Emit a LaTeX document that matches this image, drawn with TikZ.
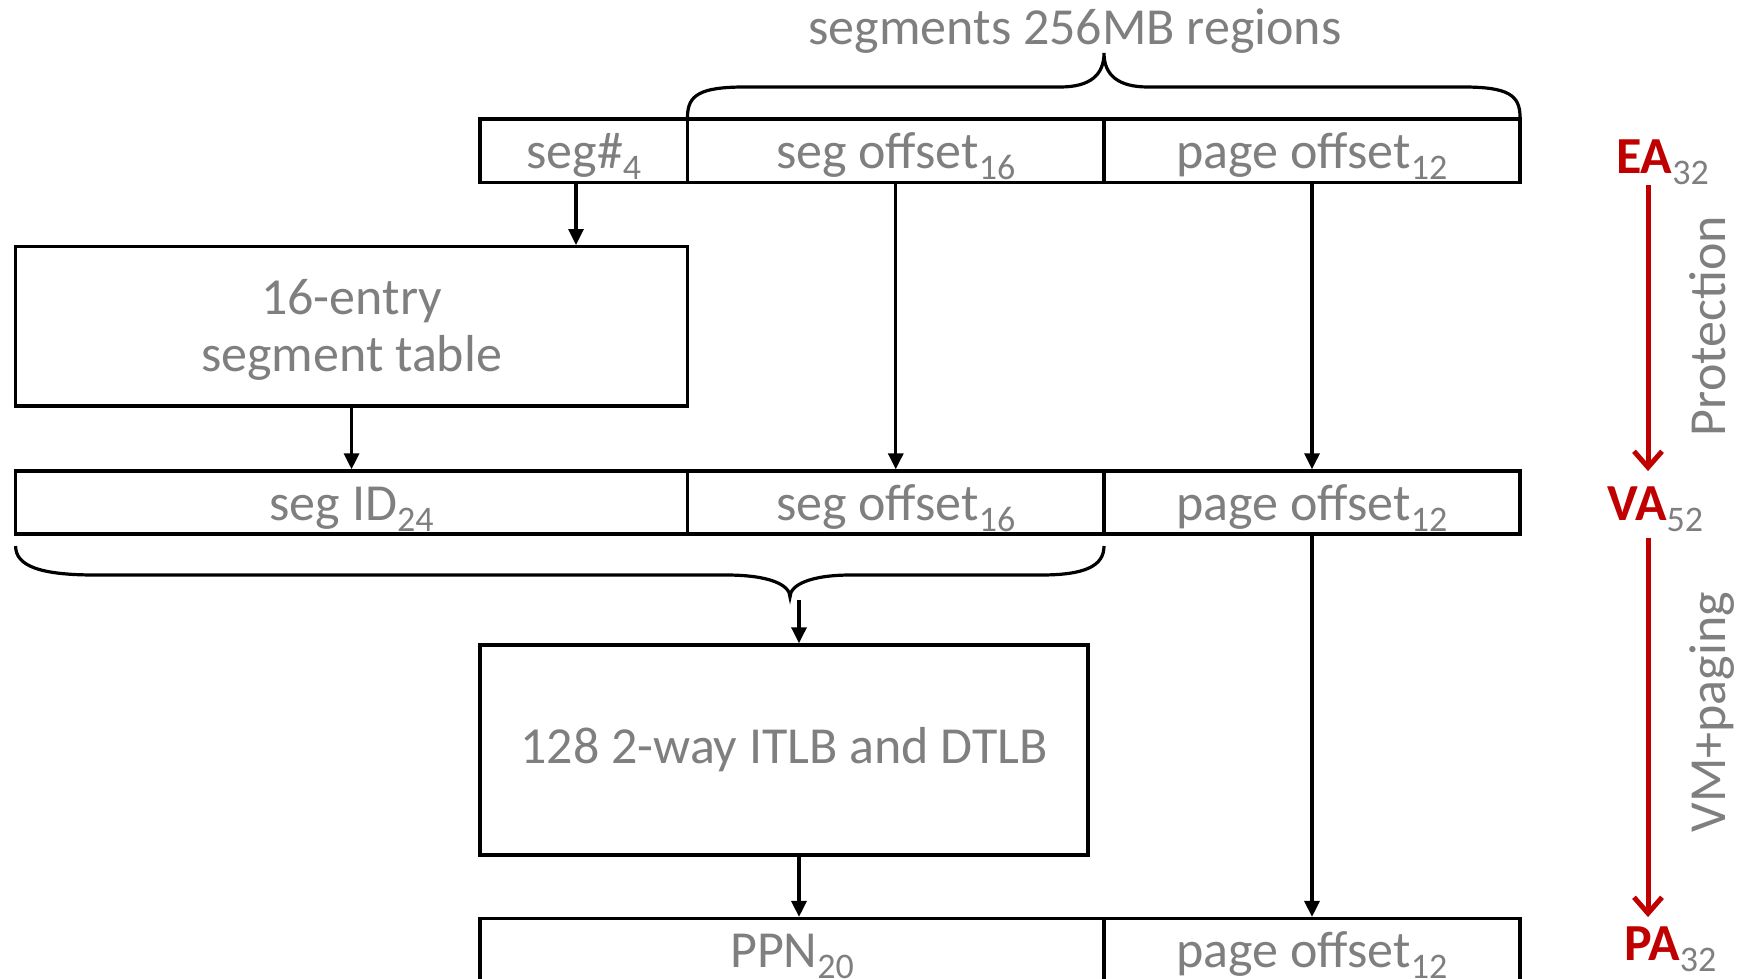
\documentclass[tikz,border=0pt]{standalone}
\usepackage{fontspec}
\setmainfont{Carlito}
\usetikzlibrary{arrows.meta}
\definecolor{txtgray}{HTML}{7F7F7F}
\definecolor{dred}{HTML}{C00000}
\newcommand\subs[1]{\raisebox{-11pt}{\fontsize{36}{36}\selectfont #1}}
\begin{document}
\begin{tikzpicture}[x=1pt,y=-1pt,
  every node/.style={font=\fontsize{52}{57}\selectfont, text=txtgray, inner sep=0pt},
  field/.style={draw=black, line width=3.4pt, minimum height=63pt, text height=49pt, text depth=14pt},
  bigbox/.style={draw=black, line width=3.4pt, align=center},
  arr/.style={draw=black, line width=3.3pt, -{Triangle[length=16pt,width=15pt]}},
  redarr/.style={draw=dred, line width=5pt, -{Straight Barb[length=16pt,width=28pt,line width=5pt]}},
  bracepath/.style={draw=black, line width=3.2pt},
  redlab/.style={anchor=base west, text=dred, font=\fontsize{52}{57}\selectfont\bfseries},
  sidelab/.style={rotate=90, anchor=base}]
\useasboundingbox (0,0) rectangle (1750,979);
\clip (0,0) rectangle (1750,979);

% title and top brace
\node[anchor=base] (title) at (1075,45) {segments 256MB regions};
\draw[bracepath] (687.5,117) .. controls (687.5,95) and (700,87) .. (745,87) -- (1060,87)
  .. controls (1090,87) and (1104,75) .. (1104,53)
  .. controls (1104,75) and (1118,87) .. (1148,87) -- (1463,87)
  .. controls (1508,87) and (1520,95) .. (1520,117);

% EA row
\node[field, minimum width=207.5pt] (segn) at (583.75,150.7) {seg\#\subs{4}};
\node[field, minimum width=416.5pt] (soff1) at (895.75,150.7) {seg offset\subs{16}};
\node[field, minimum width=416pt] (poff1) at (1312,150.7) {page offset\subs{12}};

% segment table
\node[bigbox, minimum width=671.9pt, minimum height=159.3pt] (tab) at (351.55,326.35) {\rule{0pt}{43pt}16-entry\\segment table};

% VA row
\node[field, minimum width=671.9pt] (segid) at (351.55,502.5) {seg ID\subs{24}};
\node[field, minimum width=416.5pt] (soff2) at (895.75,502.5) {seg offset\subs{16}};
\node[field, minimum width=416pt] (poff2) at (1312,502.5) {page offset\subs{12}};

% bottom brace
\coordinate (brtip) at (790,597);
\draw[bracepath] (15.6,546) .. controls (15.6,566) and (40,575) .. (95,575) -- (726,575)
  .. controls (770,575) and (790,585) .. (brtip)
  .. controls (790,585) and (810,575) .. (851,575) -- (1041,575)
  .. controls (1085,575) and (1104,566) .. (1104,546);

% TLB
\node[bigbox, minimum width=608pt, minimum height=210pt] (tlb) at (784,750) {128 2-way ITLB and DTLB};

% PA row
\node[field, minimum width=624pt] (ppn) at (792,950.1) {PPN\subs{20}};
\node[field, minimum width=416pt] (poff3) at (1312,950.1) {page offset\subs{12}};

% black connectors
\coordinate (c1) at (576,0);
\coordinate (c2) at (799,0);
\draw[arr] (c1 |- segn.south) -- (c1 |- tab.north);
\draw[arr] (tab.south) -- (tab.south |- segid.north);
\draw[arr] (soff1.south) -- (soff1.south |- soff2.north);
\draw[arr] (poff1.south) -- (poff1.south |- poff2.north);
\draw[arr] (c2 |- 0,600) -- (c2 |- tlb.north);
\draw[arr] (c2 |- tlb.south) -- (c2 |- ppn.north);
\draw[arr] (poff2.south) -- (poff2.south |- poff3.north);

% right side labels
\node[redlab] (ea) at (1616,173) {EA\textcolor{txtgray}{\mdseries\subs{32}}};
\node[redlab] (va) at (1607,520) {VA\textcolor{txtgray}{\mdseries\subs{52}}};
\node[redlab] (pa) at (1624,960) {PA\textcolor{txtgray}{\mdseries\subs{32}}};
\coordinate (rx) at (1648,0);
\draw[redarr, shorten <=1pt, shorten >=15pt] (rx |- ea.south) -- (rx |- va.north);
\draw[redarr, shorten <=7pt, shorten >=9pt] (rx |- va.south) -- (rx |- pa.north);
\node[sidelab] (prot) at (1725,326) {Protection};
\node[sidelab] (vmp) at (1725,712) {VM+paging};
\end{tikzpicture}
\end{document}
